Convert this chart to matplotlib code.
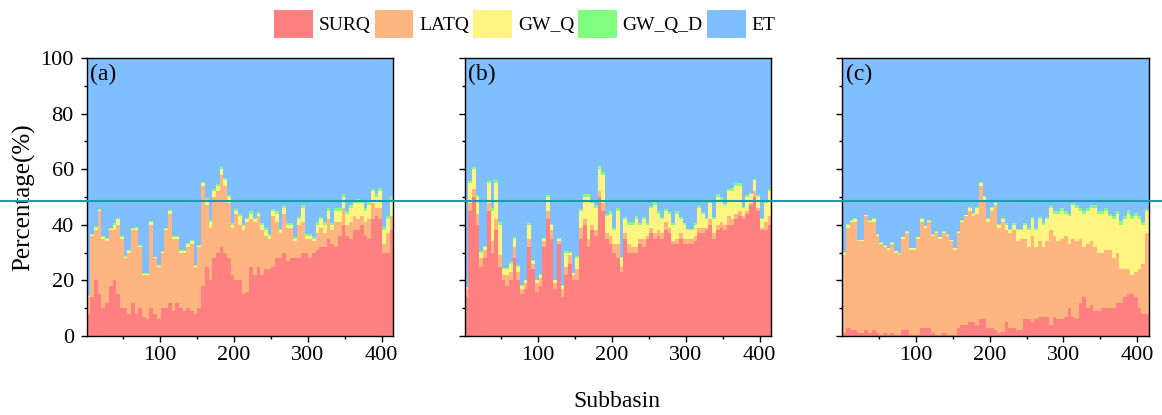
import matplotlib
matplotlib.use('Agg')
import matplotlib.pyplot as plt
import numpy as np
from matplotlib.lines import Line2D

plt.rcParams['font.family'] = 'Liberation Serif'

# component shares (%) per group of 5 subbasins
series_names = ['SURQ', 'LATQ', 'GW_Q', 'GW_Q_D', 'ET']
colors = ['#FF8080', '#FFB580', '#FFF580', '#80FF80', '#80BFFF']
bin_size = 5
panel_tags = ['(a)', '(b)', '(c)']

a_surq = [8, 14, 20, 15, 10, 12, 18, 20, 15, 10, 10, 8, 12, 8, 10, 7, 6, 10, 8, 6,
          10, 10, 12, 9, 12, 10, 9, 10, 9, 8, 10, 18, 25, 20, 28, 30, 32, 30, 28, 22,
          20, 20, 15, 16, 25, 22, 25, 22, 24, 24, 25, 28, 28, 30, 27, 28, 28, 28, 30, 30,
          28, 30, 31, 32, 32, 35, 33, 32, 36, 40, 36, 35, 38, 38, 40, 36, 35, 42, 43, 42,
          30, 30, 38]
a_latq = [6, 22, 18, 30, 25, 22, 20, 18, 25, 25, 18, 22, 26, 30, 22, 15, 16, 30, 20, 19,
          20, 28, 32, 26, 23, 20, 21, 22, 24, 17, 22, 36, 22, 19, 22, 22, 26, 24, 20, 17,
          24, 20, 23, 25, 17, 19, 18, 16, 12, 11, 18, 13, 9, 14, 12, 11, 6, 12, 11, 5,
          7, 4, 6, 7, 5, 7, 5, 9, 5, 6, 4, 6, 5, 4, 3, 5, 7, 6, 3, 4,
          3, 7, 5]
a_gwq = [0.5, 0.5, 1, 0.5, 0.5, 1, 0.5, 2, 2, 0.5, 0.5, 0.5, 0.5, 1, 0.5, 0.3, 0.3, 1, 0.3, 0.3,
         0.3, 0.5, 1, 0.5, 0.5, 0.5, 0.5, 1, 1, 0.3, 0.5, 1, 2, 2, 2, 2, 2, 2, 2, 1,
         1, 3, 1.5, 1, 2, 1, 1, 2, 2, 1, 2, 3, 1, 2, 1, 1, 1, 2, 5, 1,
         1, 1, 3, 3, 3, 3, 2, 4, 4, 4, 4, 5, 5, 6, 5, 4, 5, 4, 4, 6,
         5, 5, 6]
a_gwqd = [0.3, 0.3, 0.4, 0.3, 0.3, 0.3, 0.3, 0.5, 0.4, 0.3, 0.3, 0.3, 0.3, 0.3, 0.3, 0.2, 0.2, 0.4, 0.2, 0.2,
          0.2, 0.3, 0.4, 0.3, 0.3, 0.3, 0.3, 0.4, 0.4, 0.2, 0.3, 0.5, 0.6, 0.6, 0.7, 0.7, 0.8, 0.7, 0.7, 0.6,
          0.6, 0.8, 0.6, 0.6, 0.8, 0.6, 0.6, 0.7, 0.7, 0.6, 0.8, 0.9, 0.6, 0.8, 0.6, 0.6, 0.6, 0.8, 1.0, 0.6,
          0.6, 0.7, 0.9, 0.9, 0.9, 0.9, 0.8, 1.0, 1.0, 1.0, 1.0, 1.1, 1.1, 1.2, 1.1, 1.0, 1.1, 1.0, 1.0, 1.2,
          1.1, 1.1, 1.2]

b_surq = [14, 45, 50, 40, 25, 28, 45, 30, 38, 25, 20, 18, 20, 28, 20, 15, 17, 32, 24, 16,
          18, 32, 42, 35, 17, 33, 14, 22, 26, 20, 20, 35, 40, 32, 38, 36, 50, 45, 35, 33,
          30, 28, 23, 35, 30, 30, 30, 33, 32, 35, 37, 35, 36, 35, 38, 37, 33, 33, 35, 33,
          33, 33, 34, 37, 37, 38, 40, 35, 38, 39, 38, 40, 40, 42, 43, 42, 44, 47, 50, 45,
          38, 38, 40]
b_latq = [3, 3, 3, 4, 3, 3, 3, 4, 4, 4, 2, 4, 3, 4, 3, 2, 2, 3, 2, 3,
          3, 2, 3, 3, 2, 1, 3, 3, 3, 2, 4, 4, 2, 3, 2, 2, 2, 3, 2, 3,
          3, 5, 2, 2, 3, 2, 2, 2, 3, 1, 2, 2, 2, 2, 3, 2, 1, 2, 2, 2,
          2, 2, 2, 2, 2, 1, 2, 2, 2, 2, 2, 3, 2, 2, 2, 1, 1, 1, 2, 1,
          1, 3, 3]
b_gwq = [0.5, 7, 7, 6, 2, 1, 7, 11, 13, 11, 2, 2, 3, 3, 2, 1, 1, 5, 1, 1,
         1, 1, 5, 2, 1, 1, 1, 5, 1, 0.5, 4, 6, 8, 15, 8, 8, 8, 10, 6, 8,
         5, 12, 3, 5, 7, 8, 10, 5, 7, 4, 7, 10, 6, 5, 4, 5, 6, 9, 5, 5,
         3, 3, 4, 7, 5, 3, 6, 5, 10, 8, 7, 9, 10, 10, 9, 3, 5, 3, 4, 4,
         3, 7, 9]
b_gwqd = [0.3, 0.8, 0.8, 0.8, 0.4, 0.3, 0.8, 1.0, 1.0, 1.0, 0.4, 0.4, 0.5, 0.5, 0.4, 0.3, 0.3, 0.7, 0.3, 0.3,
          0.3, 0.3, 0.7, 0.4, 0.3, 0.3, 0.3, 0.7, 0.3, 0.2, 0.6, 0.8, 1.0, 1.2, 1.0, 1.0, 1.0, 1.1, 0.8, 1.0,
          0.7, 1.2, 0.5, 0.7, 0.9, 1.0, 1.1, 0.7, 0.9, 0.6, 0.9, 1.1, 0.8, 0.7, 0.6, 0.7, 0.8, 1.0, 0.7, 0.7,
          0.5, 0.5, 0.6, 0.9, 0.7, 0.5, 0.8, 0.7, 1.1, 1.0, 0.9, 1.0, 1.1, 1.1, 1.0, 0.5, 0.7, 0.5, 0.6, 0.6,
          0.5, 0.9, 1.0]

c_surq = [1, 3, 2, 2, 1, 1, 2, 1, 2, 1, 0.5, 1, 0.5, 1, 0.5, 0.5, 2, 2, 0.5, 0.5,
          0.5, 3, 3, 3, 1, 0.5, 0.5, 1, 0.5, 0.5, 0.5, 3, 4, 4, 5, 5, 4, 6, 6, 3,
          3, 2, 1, 1.5, 5, 3, 3, 2, 2, 6, 6, 5, 6, 7, 7, 7, 4, 7, 6, 6,
          7, 10, 7, 6, 12, 14, 10, 11, 9, 9, 10, 10, 10, 10, 12, 12, 14, 15, 15, 14,
          10, 8, 8]
c_latq = [28, 36, 39, 39, 33, 33, 41, 40, 39, 35, 32.5, 31, 30.5, 32, 29.5, 28.5, 33, 35, 30.5, 30.5,
          34.5, 38, 36, 38, 35, 36.5, 34.5, 36, 35.5, 33.5, 30.5, 34, 37, 39, 40, 38, 40, 48, 43, 38,
          42, 45, 38, 39.5, 33, 34, 35, 32, 33, 29, 26, 31, 26, 27, 25, 27, 34, 29, 28, 29,
          29, 23, 28, 28, 23, 18, 23, 23, 23, 21, 20, 21, 21, 18, 18, 12, 10, 9, 7, 9,
          14, 18, 29]
c_gwq = [1, 1, 0.5, 1, 0.5, 0.5, 0.5, 0.5, 1, 0.5, 0.5, 0.5, 0.5, 0.5, 0.5, 0.5, 0.5, 0.5, 0.5, 0.5,
         0.5, 1, 0.5, 0.5, 0.5, 0.5, 0.5, 0.5, 0.5, 0.5, 0.5, 0.5, 0.5, 0.5, 1, 1, 2, 1, 1, 1,
         1, 1, 1, 1, 2, 1, 2, 4, 3, 5, 6, 6, 6, 8, 8, 8, 8, 8, 10, 10,
         8, 10, 12, 12, 10, 12, 12, 12, 14, 14, 14, 14, 12, 14, 14, 16, 18, 20, 20, 20,
         18, 14, 8]
c_gwqd = [0.3, 0.3, 0.2, 0.3, 0.2, 0.2, 0.2, 0.2, 0.3, 0.2, 0.2, 0.2, 0.2, 0.2, 0.2, 0.2, 0.2, 0.2, 0.2, 0.2,
          0.2, 0.3, 0.2, 0.2, 0.2, 0.2, 0.2, 0.2, 0.2, 0.2, 0.2, 0.2, 0.2, 0.2, 0.3, 0.3, 0.4, 0.3, 0.3, 0.3,
          0.4, 0.4, 0.4, 0.4, 0.5, 0.4, 0.5, 0.6, 0.5, 0.6, 0.7, 0.7, 0.7, 0.8, 0.8, 0.8, 0.8, 0.8, 0.9, 0.9,
          0.8, 0.9, 1.0, 1.0, 0.9, 1.0, 1.0, 1.0, 1.1, 1.1, 1.1, 1.1, 1.0, 1.1, 1.1, 1.2, 1.2, 1.3, 1.3, 1.3,
          1.2, 1.1, 0.8]

panels = [
    [a_surq, a_latq, a_gwq, a_gwqd],
    [b_surq, b_latq, b_gwq, b_gwqd],
    [c_surq, c_latq, c_gwq, c_gwqd],
]

W, H = 1162, 415
fig = plt.figure(figsize=(W / 100, H / 100), dpi=100)
lefts = [86.7, 464.7, 842.3]  # axes left edges in pixels

handles = []
for i, comps in enumerate(panels):
    ax = fig.add_axes([lefts[i] / W, 79 / H, 306.5 / W, 278 / H])
    n = len(comps[0])
    x = np.arange(n) * bin_size + (bin_size + 1) / 2
    bottom = np.zeros(n)
    parts = [np.array(c, dtype=float) for c in comps]
    parts.append(100 - sum(parts))  # ET closes the water balance
    for vals, name, col in zip(parts, series_names, colors):
        bc = ax.bar(x, vals, width=bin_size, bottom=bottom, color=col,
                    linewidth=0, antialiased=False, label=name)
        bottom = bottom + vals
        if i == 0:
            handles.append(bc)

    ax.set_xlim(0.5, n * bin_size + 0.5)
    ax.set_ylim(0, 100)
    ax.set_xticks([100, 200, 300, 400])
    ax.set_xticks([50, 150, 250, 350], minor=True)
    ax.set_yticks(np.arange(0, 101, 20))
    ax.set_yticks(np.arange(10, 100, 20), minor=True)
    ax.tick_params(which='major', direction='out', length=4.3, width=1,
                   labelsize=16, pad=3)
    ax.tick_params(which='minor', direction='out', length=2.3, width=1)
    ax.tick_params(axis='y', pad=5)
    if i > 0:
        ax.tick_params(axis='y', labelleft=False)
    for sp in ax.spines.values():
        sp.set_linewidth(1.0)
    ax.text(0.012, 0.978, panel_tags[i], transform=ax.transAxes,
            ha='left', va='top', fontsize=17)
    if i == 0:
        ax.set_ylabel('Percentage(%)', fontsize=18, labelpad=4)

fig.text(617 / W, 1 - 401 / H, 'Subbasin', ha='center', va='center', fontsize=17)

fig.legend(handles, series_names, ncol=5, loc='center',
           bbox_to_anchor=(0.4515, 0.942), frameon=False, fontsize=14,
           handlelength=2.0, handleheight=1.9, handletextpad=0.3,
           columnspacing=0.2, borderpad=0, borderaxespad=0)

# reference line across the whole figure
fig.add_artist(Line2D([0, 1], [1 - 201 / H, 1 - 201 / H], transform=fig.transFigure,
                      color='#1E9BA8', lw=1.5, zorder=10))

fig.savefig('out.png', dpi=100)
